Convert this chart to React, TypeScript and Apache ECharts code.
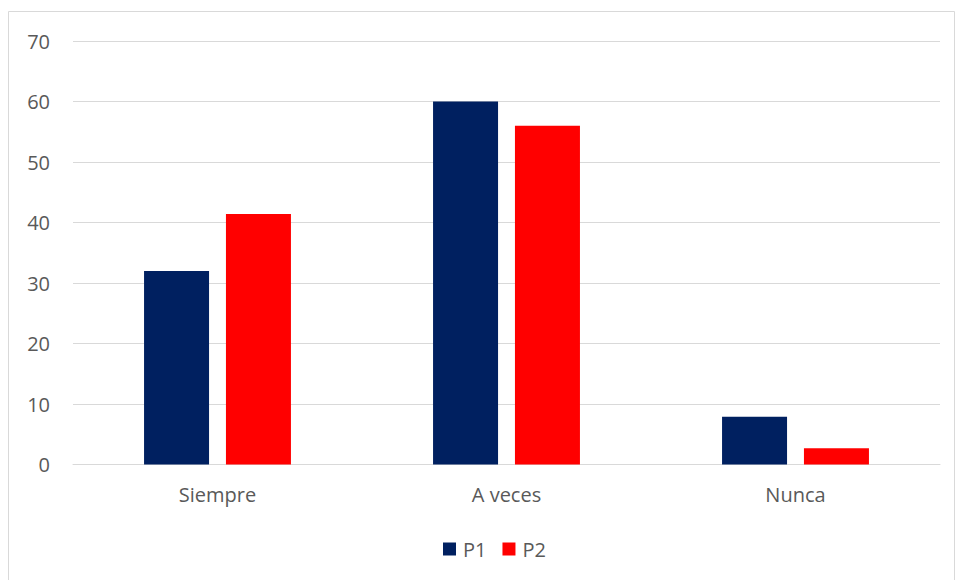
import React, { useEffect, useRef } from "react";
import * as echarts from "echarts";

const categories = ["Siempre", "A veces", "Nunca"];
const p1Values = [32, 60, 7.9];
const p2Values = [41.4, 56, 2.7];
const yTicks = { min: 0, max: 70, interval: 10 };

export default function App() {
  const ref = useRef<HTMLDivElement>(null);
  useEffect(() => {
    if (!ref.current) return;
    const chart = echarts.init(ref.current, undefined, { renderer: "svg" });
    const font = "'Open Sans', sans-serif";
    chart.setOption({
      animation: false,
      textStyle: { fontFamily: font },
      graphic: [
        {
          type: "rect",
          shape: { x: 8.5, y: 11.5, width: 946, height: 580 },
          style: { fill: "none", stroke: "#d9d9d9", lineWidth: 1 },
          silent: true,
        },
      ],
      grid: { left: 73, right: 18, top: 41, bottom: 115.5, containLabel: false },
      legend: {
        bottom: 16,
        left: 438,
        itemWidth: 13,
        itemHeight: 13,
        itemGap: 16,
        icon: "rect",
        textStyle: { color: "#595959", fontSize: 20, fontFamily: font, padding: [0, 0, 0, 2] },
        data: ["P1", "P2"],
      },
      xAxis: {
        type: "category",
        data: categories,
        axisLine: { show: true, lineStyle: { color: "#d9d9d9", width: 1 } },
        axisTick: { show: false },
        axisLabel: { color: "#595959", fontSize: 20, margin: 20, fontFamily: font },
      },
      yAxis: {
        type: "value",
        min: yTicks.min,
        max: yTicks.max,
        interval: yTicks.interval,
        axisLine: { show: false },
        axisTick: { show: false },
        splitLine: { lineStyle: { color: "#d9d9d9", width: 1 } },
        axisLabel: { color: "#595959", fontSize: 20, margin: 23, fontFamily: font },
      },
      series: [
        {
          name: "P1",
          type: "bar",
          data: p1Values,
          barWidth: 65,
          barGap: "26%",
          itemStyle: { color: "#002060" },
        },
        {
          name: "P2",
          type: "bar",
          data: p2Values,
          barWidth: 65,
          itemStyle: { color: "#ff0000" },
        },
      ],
    });
    return () => chart.dispose();
  }, []);
  return (
    <div style={{ position: "fixed", left: 0, top: 0, width: 958, height: 580, background: "#fff" }}>
      <div ref={ref} style={{ width: 958, height: 580 }} />
    </div>
  );
}
